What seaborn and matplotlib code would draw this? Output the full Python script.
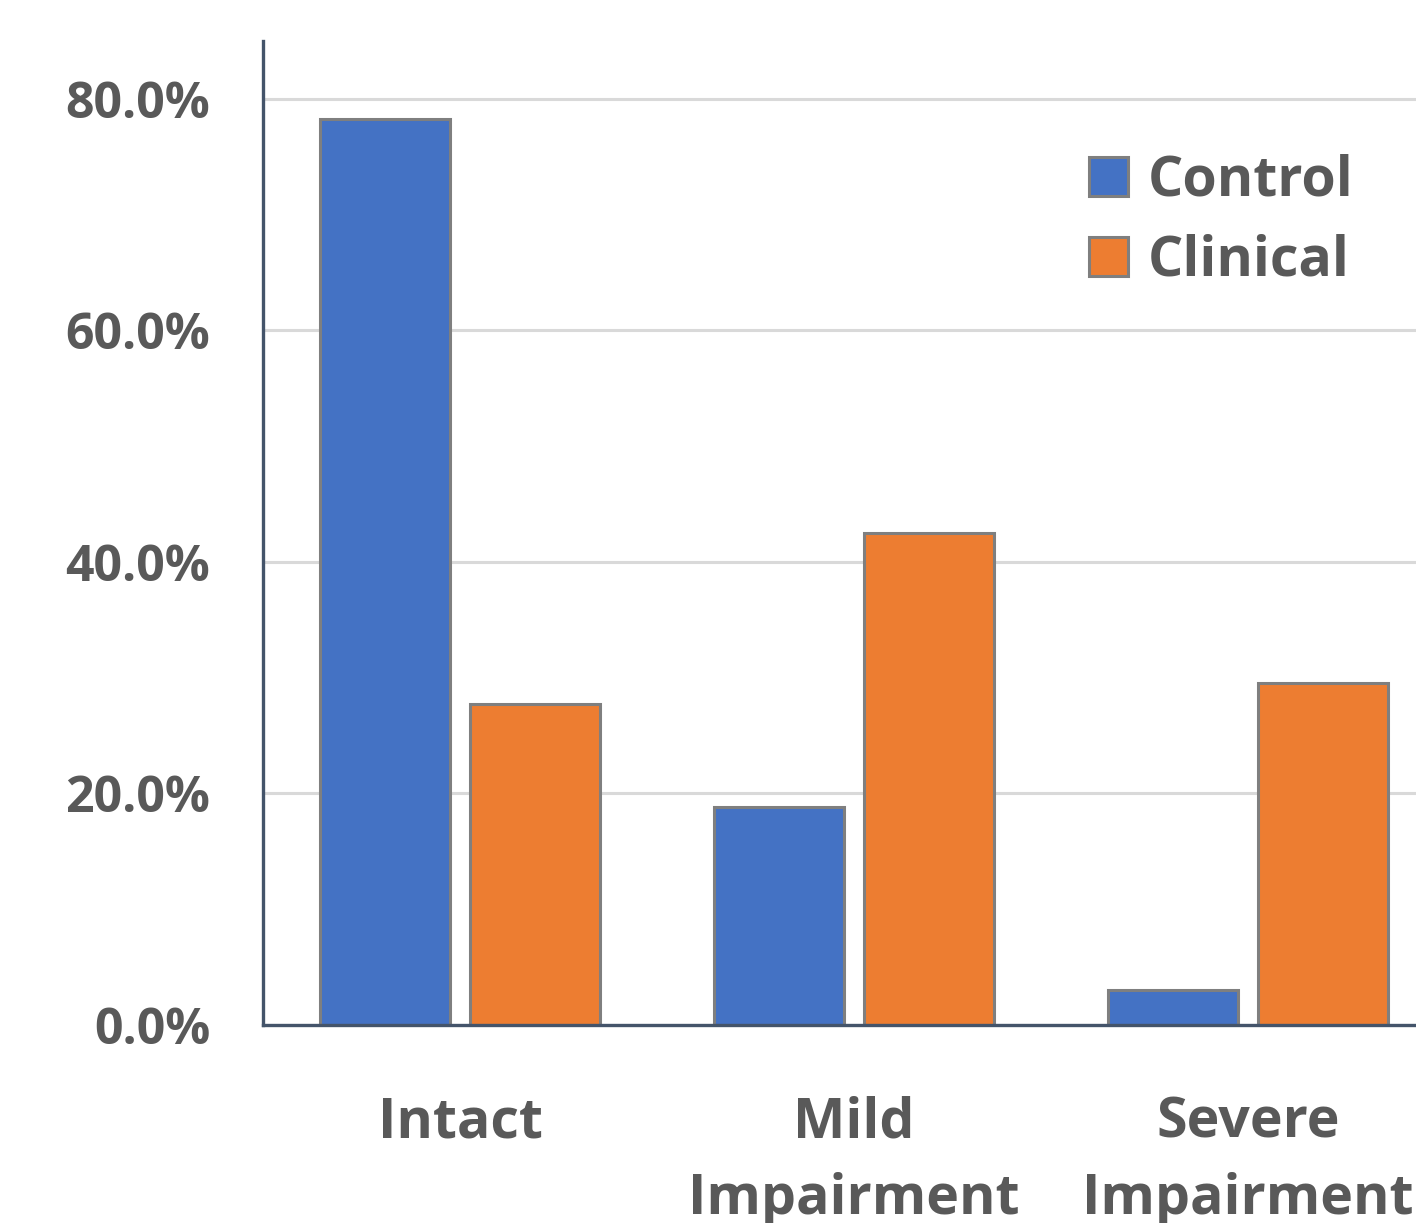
import pandas as pd
import numpy as np
import matplotlib
matplotlib.use("Agg")
import matplotlib.pyplot as plt
import seaborn as sns
from matplotlib.ticker import PercentFormatter

# values (fractions)
categories = ["Intact", "Mild\nImpairment", "Severe\nImpairment"]
groups = ["Control", "Clinical"]
control_vals = [0.783, 0.188, 0.030]
clinical_vals = [0.277, 0.425, 0.295]
yticks = [0.0, 0.2, 0.4, 0.6, 0.8]

df = pd.DataFrame({
    "category": categories * 2,
    "group": ["Control"] * 3 + ["Clinical"] * 3,
    "value": control_vals + clinical_vals,
})

sns.set_style("white")
plt.rcParams["font.family"] = ["Open Sans", "DejaVu Sans"]
plt.rcParams["font.weight"] = "bold"

text_col = "#595959"
spine_col = "#44546A"

fig = plt.figure(figsize=(14.16, 12.23), dpi=100)
ax = fig.add_axes([263 / 1416, 198 / 1223, 1182 / 1416, 984 / 1223])

sns.barplot(data=df, x="category", y="value", hue="group", hue_order=groups,
            palette=["#4472C4", "#ED7D31"], saturation=1, width=0.76, gap=0.13,
            edgecolor="#7F7F7F", linewidth=2.2, errorbar=None, ax=ax)

ax.set_ylim(0, 0.85)
ax.set_xlim(-0.5, 2.5)
ax.set_yticks(yticks)
ax.yaxis.set_major_formatter(PercentFormatter(1.0, decimals=1))
ax.set_axisbelow(True)
ax.grid(axis="y", color="#D9D9D9", linewidth=2.2)
ax.set_xlabel("")
ax.set_ylabel("")

for s in ["top", "right"]:
    ax.spines[s].set_visible(False)
for s in ["left", "bottom"]:
    ax.spines[s].set_color(spine_col)
    ax.spines[s].set_linewidth(2.4)
    ax.spines[s].set_zorder(5)

ax.tick_params(axis="y", length=0, pad=38, labelsize=36, labelcolor=text_col)
ax.tick_params(axis="x", length=0, pad=51, labelsize=40, labelcolor=text_col)
for lab in ax.get_xticklabels() + ax.get_yticklabels():
    lab.set_fontweight("bold")
for lab in ax.get_xticklabels():
    lab.set_linespacing(1.5)

leg = ax.legend(loc="upper left", bbox_to_anchor=(1089 / 1416, 1 - 154 / 1223),
                bbox_transform=fig.transFigure, frameon=False,
                prop={"size": 40, "weight": "bold"},
                handlelength=0.7, handleheight=0.7, handletextpad=0.35,
                labelspacing=0.45, borderpad=0, borderaxespad=0)
for t in leg.get_texts():
    t.set_color(text_col)

fig.savefig("out.png", dpi=100)
